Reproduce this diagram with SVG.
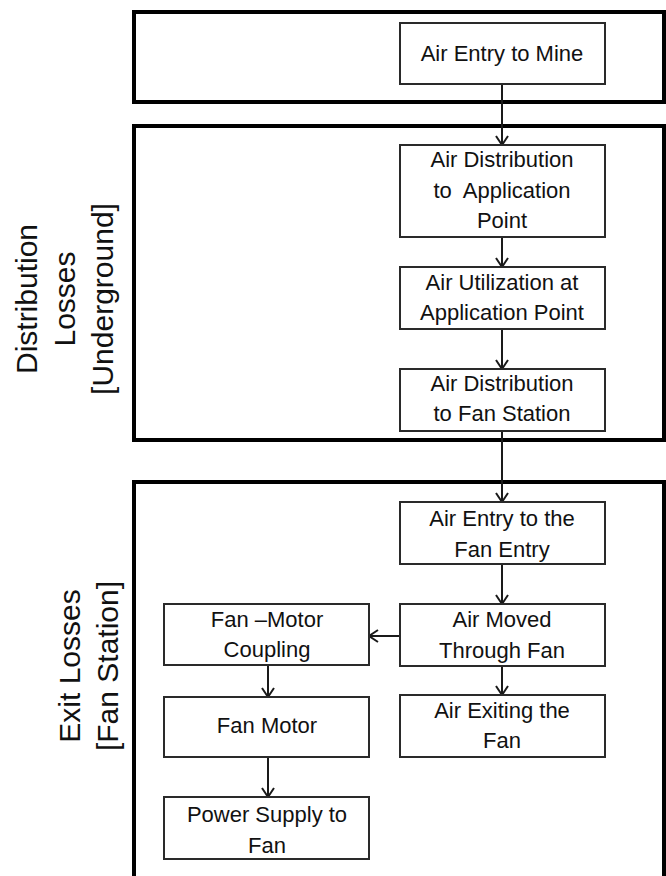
<svg xmlns="http://www.w3.org/2000/svg" width="666" height="876" viewBox="0 0 666 876">
<style>
.frame{fill:none;stroke:#000;stroke-width:4}
.node rect{fill:#fff;stroke:#2a2a2a;stroke-width:2}
.node text{font-family:"Liberation Sans",Arial,sans-serif;font-size:22px;fill:#111;text-anchor:middle;white-space:pre}
.lbl{font-family:"Liberation Sans",Arial,sans-serif;font-size:30px;fill:#111;text-anchor:middle}
.conn{fill:none;stroke:#1a1a1a;stroke-width:2;marker-end:url(#ah)}
</style>
<defs>
<marker id="ah" markerUnits="userSpaceOnUse" markerWidth="16" markerHeight="16" refX="14" refY="8" orient="auto">
<path d="M5,2 L14,8 L5,14" fill="none" stroke="#1a1a1a" stroke-width="2"/>
</marker>
</defs>
<rect width="666" height="876" fill="#fff"/>
<g id="frames">
<rect class="frame" x="134" y="12" width="530" height="90"/>
<rect class="frame" x="134" y="126" width="530" height="314"/>
<rect class="frame" x="134" y="482" width="530" height="400"/>
</g>
<g id="labels">
<g id="label-distribution" transform="translate(0,299) rotate(-90)">
<text class="lbl" x="0" y="37">Distribution</text>
<text class="lbl" x="0" y="75">Losses</text>
<text class="lbl" x="0" y="113">[Underground]</text>
</g>
<g id="label-exit" transform="translate(0,666) rotate(-90)">
<text class="lbl" x="0" y="80">Exit Losses</text>
<text class="lbl" x="0" y="118">[Fan Station]</text>
</g>
</g>
<g id="connectors">
<path class="conn" d="M502,84 V145"/>
<path class="conn" d="M502,237 V267"/>
<path class="conn" d="M502,329 V369"/>
<path class="conn" d="M502,431 V502"/>
<path class="conn" d="M502,564 V604"/>
<path class="conn" d="M502,666 V695"/>
<path class="conn" d="M400,636 H369"/>
<path class="conn" d="M268,665 V697"/>
<path class="conn" d="M268,757 V797"/>
</g>
<g id="n1" class="node"><rect x="400" y="23" width="205" height="61"/><text x="502" y="61">Air Entry to Mine</text></g>
<g id="n2" class="node"><rect x="400" y="145" width="205" height="92"/><text x="502" y="167">Air Distribution</text><text x="502" y="198">to  Application</text><text x="502" y="228">Point</text></g>
<g id="n3" class="node"><rect x="400" y="267" width="205" height="62"/><text x="502" y="290">Air Utilization at</text><text x="502" y="320">Application Point</text></g>
<g id="n4" class="node"><rect x="400" y="369" width="205" height="62"/><text x="502" y="391">Air Distribution</text><text x="502" y="421">to Fan Station</text></g>
<g id="n5" class="node"><rect x="400" y="502" width="205" height="62"/><text x="502" y="526">Air Entry to the</text><text x="502" y="557">Fan Entry</text></g>
<g id="n6" class="node"><rect x="400" y="604" width="205" height="62"/><text x="502" y="627">Air Moved</text><text x="502" y="658">Through Fan</text></g>
<g id="n7" class="node"><rect x="400" y="695" width="205" height="62"/><text x="502" y="718">Air Exiting the</text><text x="502" y="748">Fan</text></g>
<g id="n8" class="node"><rect x="164" y="604" width="205" height="61"/><text x="267" y="627">Fan –Motor</text><text x="267" y="657">Coupling</text></g>
<g id="n9" class="node"><rect x="164" y="697" width="205" height="60"/><text x="267" y="733">Fan Motor</text></g>
<g id="n10" class="node"><rect x="164" y="797" width="205" height="62"/><text x="267" y="822">Power Supply to</text><text x="267" y="853">Fan</text></g>
</svg>
